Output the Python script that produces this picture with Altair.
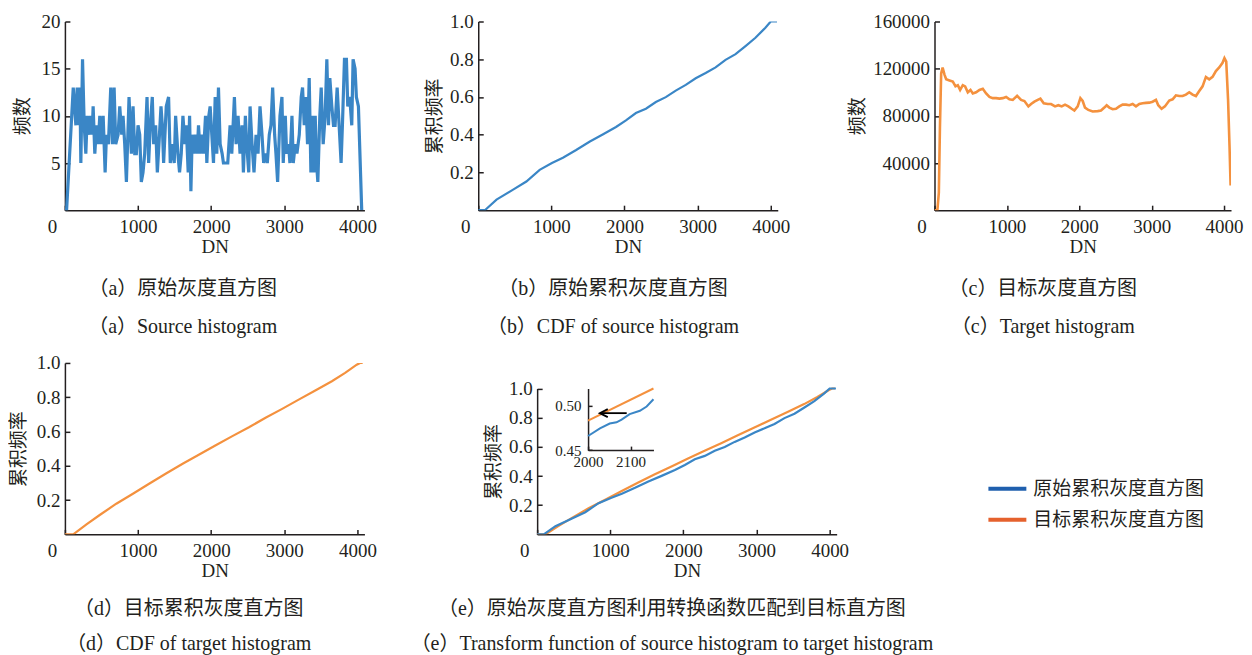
import altair as alt
import pandas as pd

# ---------------- data ----------------
# (a) source histogram
src_dn = [0, 23, 114, 150, 168, 195, 205, 218, 241, 264,
          286, 305, 332, 350, 373, 386, 409, 432, 455, 477,
          500, 523, 550, 568, 595, 627, 650, 673, 695, 727,
          750, 777, 795, 818, 841, 877, 909, 932, 955, 977,
          1000, 1023, 1045, 1068, 1091, 1123, 1145, 1168, 1195, 1214,
          1241, 1264, 1286, 1314, 1332, 1350, 1386, 1418, 1441, 1468,
          1495, 1514, 1545, 1568, 1591, 1614, 1641, 1659, 1686, 1705,
          1723, 1741, 1764, 1786, 1809, 1827, 1850, 1873, 1895, 1923,
          1941, 1968, 1986, 2009, 2032, 2055, 2077, 2100, 2123, 2150,
          2168, 2195, 2227, 2259, 2282, 2318, 2341, 2368, 2395, 2423,
          2441, 2468, 2486, 2514, 2532, 2559, 2586, 2614, 2641, 2668,
          2695, 2718, 2741, 2768, 2795, 2818, 2841, 2868, 2886, 2909,
          2941, 2968, 2986, 3014, 3032, 3059, 3077, 3105, 3123, 3150,
          3173, 3205, 3232, 3250, 3273, 3295, 3318, 3341, 3364, 3386,
          3405, 3423, 3441, 3459, 3486, 3505, 3532, 3559, 3582, 3605,
          3623, 3650, 3673, 3695, 3723, 3750, 3777, 3795, 3823, 3850,
          3868, 3895, 3923, 3941, 3968, 3986, 4014, 4059]
src_count = [0, 0, 13, 9, 13, 9, 13, 5, 16, 9,
             6, 10, 8, 10, 8, 11, 6, 9, 7, 10,
             7, 10, 4, 8, 7, 13, 7, 13, 7, 8,
             11, 8, 10, 7, 3, 12, 6, 11, 6, 6,
             9, 8, 3, 4, 6, 12, 5, 9, 12, 7,
             9, 4, 7, 11, 9, 5, 11, 12, 5, 7,
             5, 10, 6, 4, 6, 10, 7, 9, 4, 10,
             2, 8, 6, 8, 6, 9, 6, 8, 6, 10,
             5, 10, 11, 8, 5, 12, 6, 13, 7, 6,
             5, 5, 5, 9, 6, 12, 7, 10, 6, 9,
             4, 10, 7, 4, 11, 7, 4, 8, 6, 11,
             8, 5, 6, 5, 8, 9, 13, 8, 6, 3,
             10, 12, 5, 10, 6, 7, 5, 10, 5, 7,
             6, 8, 12, 13, 9, 12, 7, 14, 4, 10,
             4, 10, 5, 3, 10, 13, 7, 10, 16, 9,
             14, 11, 9, 9, 13, 9, 5, 9, 16, 16,
             11, 12, 9, 16, 15, 12, 11, 0]

# (b) CDF of source histogram
cdf_src_dn = [0, 91, 250, 477, 658, 840, 1008, 1158, 1339, 1521,
              1702, 1884, 2020, 2156, 2293, 2429, 2565, 2701, 2838, 2974,
              3110, 3246, 3382, 3519, 3655, 3791, 3927, 4000, 4086]
cdf_src = [0, 0, 0.056, 0.109, 0.152, 0.214, 0.25, 0.278, 0.319, 0.363,
           0.401, 0.441, 0.476, 0.515, 0.538, 0.573, 0.599, 0.634, 0.664, 0.699,
           0.727, 0.757, 0.797, 0.827, 0.870, 0.914, 0.967, 1.0, 1.0]

# (c) target histogram
tgt_dn = [0, 40, 60, 75, 92, 112, 138, 161, 207, 253,
          290, 322, 354, 391, 423, 460, 497, 529, 575, 621,
          667, 713, 759, 805, 851, 897, 943, 989, 1035, 1081,
          1141, 1196, 1242, 1297, 1334, 1380, 1426, 1463, 1509, 1564,
          1610, 1665, 1711, 1757, 1803, 1849, 1895, 1932, 1978, 2015,
          2047, 2079, 2125, 2185, 2254, 2300, 2346, 2378, 2415, 2461,
          2507, 2553, 2599, 2645, 2691, 2737, 2783, 2829, 2875, 2921,
          2967, 3013, 3059, 3091, 3137, 3183, 3243, 3289, 3335, 3381,
          3427, 3473, 3519, 3565, 3611, 3657, 3703, 3749, 3795, 3841,
          3887, 3933, 3979, 4005, 4030, 4055, 4075, 4090]
tgt_count = [0, 0, 15000, 70000, 116000, 121000, 115000, 111000, 110000, 109000,
             105000, 106000, 102000, 106000, 105000, 100000, 102000, 99000, 100000, 102000,
             103000, 99000, 96000, 95000, 95000, 94600, 95000, 96000, 94000, 93500,
             97000, 93500, 92600, 88000, 90000, 92000, 93500, 94600, 90700, 90000,
             90000, 88000, 89000, 88000, 89500, 88000, 86000, 84500, 88000, 95000,
             92600, 87000, 85000, 83700, 84000, 84500, 87000, 89000, 87000, 85600,
             86000, 88000, 89500, 89500, 89000, 90000, 88000, 90000, 90700, 91000,
             91200, 92000, 93500, 89000, 86000, 88000, 93000, 94000, 97400, 96800,
             96800, 98000, 100000, 98000, 96800, 101000, 105000, 113000, 111000, 113000,
             118000, 121000, 125000, 129000, 126000, 94000, 55000, 21000]

# (d) CDF of target histogram
cdf_tgt_dn = [0, 114, 295, 476, 703, 930, 1157, 1383, 1610, 1837, 2063,
              2290, 2517, 2744, 2971, 3197, 3424, 3651, 3832, 3991, 4036, 4072]
cdf_tgt = [0, 0, 0.058, 0.113, 0.179, 0.237, 0.297, 0.355, 0.412, 0.466, 0.520,
           0.573, 0.625, 0.680, 0.732, 0.786, 0.839, 0.893, 0.942, 0.990, 1.0, 1.0]

# (e) inset
inset_src_dn = [2000, 2028, 2051, 2067, 2079, 2098, 2122, 2138, 2154]
inset_src = [0.4659, 0.4744, 0.4800, 0.4814, 0.4844, 0.4906, 0.4944, 0.4992, 0.5074]
inset_tgt_dn = [2000, 2154]
inset_tgt = [0.4832, 0.5195]
arrow_from = [2091]
arrow_to = [2028]
arrow_head = [2037]
arrow_level = [0.4917]

series_names = ["原始累积灰度直方图", "目标累积灰度直方图"]

# ---------------- styles ----------------
FONT = "Liberation Serif, Noto Sans CJK SC"
INK = "#231f20"
BLUE = "#3a86c6"
ORANGE = "#f4913e"
LEG_BLUE = "#1f5fae"
LEG_ORANGE = "#e5612d"
FS = 19
CAP_FS = 20

df_a = pd.DataFrame({"DN": src_dn, "v": src_count})
df_b = pd.DataFrame({"DN": cdf_src_dn, "v": cdf_src})
df_c = pd.DataFrame({"DN": tgt_dn, "v": tgt_count})
df_d = pd.DataFrame({"DN": cdf_tgt_dn, "v": cdf_tgt})
df_e = pd.concat([
    pd.DataFrame({"DN": cdf_src_dn, "v": cdf_src, "s": series_names[0]}),
    pd.DataFrame({"DN": cdf_tgt_dn, "v": cdf_tgt, "s": series_names[1]}),
])
df_is = pd.DataFrame({"DN": inset_src_dn, "v": inset_src})
df_it = pd.DataFrame({"DN": inset_tgt_dn, "v": inset_tgt})
df_ar = pd.DataFrame({"x1": arrow_from, "x2": arrow_to, "xh": arrow_head, "y": arrow_level})


def ax(values, fmt, title, orient_x, size=FS, tick=5, pad=None, zero_shift=0, tpad=1, **extra):
    kw = dict(values=values, format=fmt, title=title, grid=False,
              domainColor=INK, domainWidth=1.5, tickColor=INK, tickWidth=1.5,
              tickSize={"expr": str(-tick)},
              labelFont=FONT, labelFontSize=size, labelColor=INK,
              titleFont=FONT, titleFontSize=FS, titleFontWeight="normal", titleColor=INK,
              titlePadding=tpad)
    if orient_x:
        kw["labelFlush"] = False
        kw["labelPadding"] = pad if pad is not None else 12
        if zero_shift:
            kw["labelOffset"] = {"condition": {"test": "datum.value === 0", "value": zero_shift}, "value": 0}
    else:
        kw["labelPadding"] = pad if pad is not None else 10
    kw.update(extra)
    return alt.Axis(**kw)


XV = [0, 1000, 2000, 3000, 4000]
CDFV = [0.2, 0.4, 0.6, 0.8, 1.0]


def xenc():
    return alt.X("DN:Q", scale=alt.Scale(domain=[0, 4096], nice=False, zero=False),
                 axis=ax(XV, "d", "DN", True, zero_shift=-13))


def caption(cn, en, dx, offset=23, line_h=38):
    return alt.TitleParams(text=[cn, en], orient="bottom", anchor="middle", frame="group",
                           dx=dx, offset=offset, font=FONT, fontSize=CAP_FS, fontWeight="normal",
                           color=INK, lineHeight=line_h)


def spacer(w, h):
    return alt.Chart(pd.DataFrame({"t": [""]})).mark_text().encode(text="t:N").properties(width=w, height=h)


# (a)
chart_a = alt.Chart(df_a, title=caption("（a）原始灰度直方图", "（a）Source histogram", -32)).mark_line(
    color=BLUE, strokeWidth=3.2, clip=True).encode(
    x=xenc(),
    y=alt.Y("v:Q", scale=alt.Scale(domain=[0, 20], nice=False),
            axis=ax([5, 10, 15, 20], "d", "频数", False, titleX=-32)),
).properties(width=300, height=189)

# (b)
chart_b = alt.Chart(df_b, title=caption("（b）原始累积灰度直方图", "（b）CDF of source histogram", -15)).mark_line(
    color=BLUE, strokeWidth=2.2, clip=True).encode(
    x=xenc(),
    y=alt.Y("v:Q", scale=alt.Scale(domain=[0, 1], nice=False),
            axis=ax(CDFV, ".1f", "累积频率", False, tpad=5)),
).properties(width=300, height=189)

# (c)
chart_c = alt.Chart(df_c, title=caption("（c）目标灰度直方图", "（c）Target histogram", -40)).mark_line(
    color=ORANGE, strokeWidth=2.6, clip=True).encode(
    x=xenc(),
    y=alt.Y("v:Q", scale=alt.Scale(domain=[0, 160000], nice=False),
            axis=ax([40000, 80000, 120000, 160000], "d", "频数", False, tpad=5)),
).properties(width=297, height=189)

# (d)
chart_d = alt.Chart(df_d, title=caption("（d）目标累积灰度直方图", "（d）CDF of target histogram", -26, 19, 35)).mark_line(
    color=ORANGE, strokeWidth=2.2, clip=True).encode(
    x=xenc(),
    y=alt.Y("v:Q", scale=alt.Scale(domain=[0, 1], nice=False),
            axis=ax(CDFV, ".1f", "累积频率", False, titleX=-36)),
).properties(width=300, height=171.7)

# (e) main lines: view as tall as (d), y range starts lower
E_H = 171.7
E_TOP = 25.6
ye = alt.Y("v:Q", scale=alt.Scale(domain=[0, 1], nice=False, range=[E_H, E_TOP]),
           axis=ax(CDFV, ".1f", "累积频率", False, tpad=5))
base_e = alt.Chart(df_e)
e_orange = base_e.transform_filter(alt.datum.s == series_names[1]).mark_line(
    color=ORANGE, strokeWidth=2.2, clip=True).encode(x=xenc(), y=ye)
e_blue = base_e.transform_filter(alt.datum.s == series_names[0]).mark_line(
    color=BLUE, strokeWidth=2.2, clip=True).encode(x=xenc(), y=ye)
e_legend = base_e.mark_line(opacity=0, clip=True).encode(
    x=xenc(), y=ye,
    color=alt.Color("s:N", scale=alt.Scale(domain=series_names, range=[LEG_BLUE, LEG_ORANGE]),
                    legend=alt.Legend(title=None, orient="none", legendX=923, legendY=447,
                                      direction="vertical", symbolType="stroke",
                                      symbolSize=1444, symbolStrokeWidth=4, symbolOpacity=1,
                                      labelFont=FONT, labelFontSize=FS, labelColor=INK,
                                      labelOffset=5, rowPadding=-10, labelLimit=300, padding=0)),
)
main_e = alt.layer(e_orange, e_blue, e_legend)

# inset inside (e), through its own scales with pixel ranges
IN_X0, IN_X1 = 51, 116.5
IN_Y0, IN_Y1 = E_TOP + 61.7, E_TOP
xi_scale = alt.Scale(domain=[2000, 2154], nice=False, zero=False, range=[IN_X0, IN_X1])
yi_scale = alt.Scale(domain=[0.45, 0.5195], nice=False, zero=False, range=[IN_Y0, IN_Y1])
xi_axis = ax([2000, 2100], "d", "", True, size=15, tick=4, pad=8, orient="bottom",
             offset=-(E_H - IN_Y0))
yi_axis = ax([0.45, 0.50], ".2f", "", False, size=15, tick=4, pad=11, orient="left",
             offset=-IN_X0)
in_t = alt.Chart(df_it).mark_line(color=ORANGE, strokeWidth=2).encode(
    x=alt.X("DN:Q", scale=xi_scale, axis=xi_axis), y=alt.Y("v:Q", scale=yi_scale, axis=yi_axis))
in_s = alt.Chart(df_is).mark_line(color=BLUE, strokeWidth=2).encode(
    x=alt.X("DN:Q", scale=xi_scale, axis=xi_axis), y=alt.Y("v:Q", scale=yi_scale, axis=yi_axis))
in_rule = alt.Chart(df_ar).mark_rule(color="black", strokeWidth=1.8).encode(
    x=alt.X("x1:Q", scale=xi_scale, axis=xi_axis), x2="x2:Q",
    y=alt.Y("y:Q", scale=yi_scale, axis=yi_axis))
in_head = alt.Chart(df_ar).mark_point(shape="M1,-1L-1,0L1,1", size=64, filled=False,
                                      color="black", strokeWidth=1.8, opacity=1).encode(
    x=alt.X("xh:Q", scale=xi_scale, axis=xi_axis),
    y=alt.Y("y:Q", scale=yi_scale, axis=yi_axis))
inset = alt.layer(in_t, in_s, in_rule, in_head)

chart_e = alt.layer(main_e, inset,
                    title=caption("（e）原始灰度直方图利用转换函数匹配到目标直方图",
                                  "（e）Transform function of source histogram to target histogram", -15, 19, 35)
                    ).resolve_scale(x="independent", y="independent").properties(width=300, height=E_H)

row1 = alt.hconcat(chart_a, spacer(113.7, 189), chart_b, spacer(157, 189), chart_c,
                   spacing=0, bounds="flush")
row2 = alt.hconcat(chart_d, spacer(172.3, 171.7), chart_e, spacing=0, bounds="flush")

chart = alt.vconcat(row1, row2, spacing=17).properties(
    padding={"left": 2, "top": 4, "right": 0, "bottom": 0}
).configure_view(strokeWidth=0).configure_axis(grid=False)

chart.save("out.html", embed_options={"renderer": "svg", "actions": False})
